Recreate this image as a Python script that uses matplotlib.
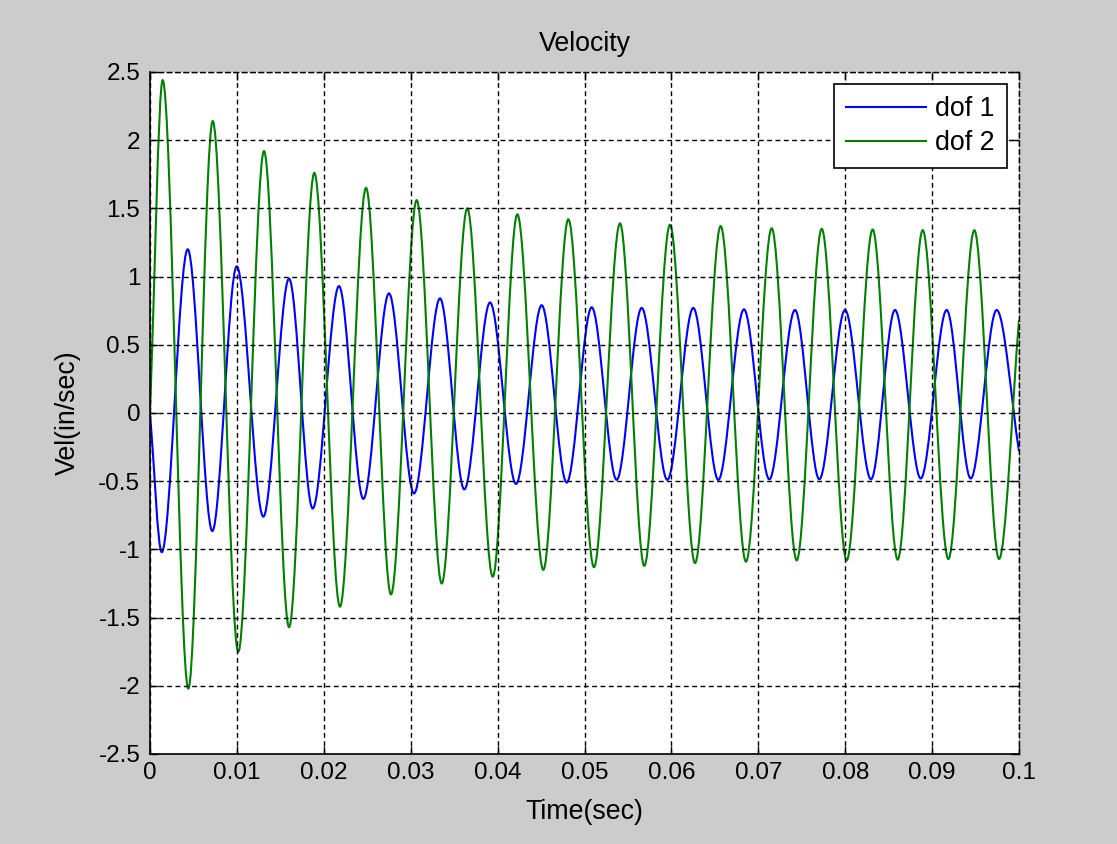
import matplotlib
matplotlib.use("Agg")
import matplotlib.pyplot as plt
from matplotlib.path import Path
from matplotlib.patches import PathPatch
from matplotlib.lines import Line2D

# ---- data (extrema of each oscillation) ----
dof1_t = [0.0, 0.00135, 0.00434, 0.00717, 0.00998, 0.01304, 0.0160, 0.01872, 0.02175,
          0.02455, 0.0275, 0.03038, 0.03337, 0.03617, 0.03913, 0.04212, 0.04507,
          0.04795, 0.05083, 0.0537, 0.05658, 0.05953, 0.06252, 0.0654, 0.06835,
          0.07127, 0.07422, 0.07702, 0.07998, 0.08297, 0.08573, 0.08869, 0.09168,
          0.09444, 0.09743, 0.1]
dof1_v = [0.0, -1.02, 1.20, -0.865, 1.075, -0.76, 0.985, -0.70, 0.93,
          -0.63, 0.877, -0.59, 0.84, -0.56, 0.81, -0.52, 0.79,
          -0.51, 0.775, -0.49, 0.77, -0.49, 0.77, -0.49, 0.76,
          -0.486, 0.755, -0.486, 0.755, -0.486, 0.755, -0.48, 0.755,
          -0.48, 0.755, -0.28]

dof2_t = [0.0, 0.00146, 0.00441, 0.00722, 0.01016, 0.01312, 0.016, 0.01891, 0.02186,
          0.02486, 0.02773, 0.03069, 0.03357, 0.03651, 0.03944, 0.04227, 0.04526,
          0.04814, 0.05109, 0.05408, 0.05688, 0.05984, 0.06272, 0.06567, 0.06858,
          0.07154, 0.07442, 0.0773, 0.08017, 0.08316, 0.08604, 0.08892, 0.09187,
          0.09486, 0.0977, 0.1]
dof2_v = [0.0, 2.44, -2.02, 2.14, -1.75, 1.92, -1.57, 1.76, -1.42,
          1.65, -1.33, 1.56, -1.25, 1.50, -1.20, 1.456, -1.15,
          1.42, -1.13, 1.39, -1.12, 1.38, -1.10, 1.37, -1.09,
          1.354, -1.08, 1.35, -1.08, 1.345, -1.075, 1.34, -1.07,
          1.34, -1.07, 0.68]

series_labels = ["dof 1", "dof 2"]
series_colors = ["#0000FF", "#008000"]
x_ticks = [0, 0.01, 0.02, 0.03, 0.04, 0.05, 0.06, 0.07, 0.08, 0.09, 0.1]
x_tick_labels = ["0", "0.01", "0.02", "0.03", "0.04", "0.05", "0.06", "0.07", "0.08", "0.09", "0.1"]
y_ticks = [-2.5, -2, -1.5, -1, -0.5, 0, 0.5, 1, 1.5, 2, 2.5]
y_tick_labels = ["-2.5", "-2", "-1.5", "-1", "-0.5", "0", "0.5", "1", "1.5", "2", "2.5"]

plt.rcParams["font.family"] = ["Liberation Sans", "DejaVu Sans"]
FS = 17.5          # tick labels
FS_LAB = 19.25     # title, axis labels, legend


def smooth_path(ts, vs):
    """Smooth curve through the extrema (horizontal tangent at each extremum)."""
    verts = [(ts[0], vs[0])]
    codes = [Path.MOVETO]
    n = len(ts)
    for i in range(n - 1):
        t0, v0, t1, v1 = ts[i], vs[i], ts[i + 1], vs[i + 1]
        d = (t1 - t0) / 3.0
        c1 = (t0 + d, v0 + (v1 - v0) / 3.0) if i == 0 else (t0 + d, v0)
        c2 = (t1 - d, v1 - (v1 - v0) / 3.0) if i == n - 2 else (t1 - d, v1)
        verts += [c1, c2, (t1, v1)]
        codes += [Path.CURVE4] * 3
    return Path(verts, codes)


fig = plt.figure(figsize=(11.17, 8.44), dpi=100, facecolor="#CCCCCC")
ax = fig.add_axes([150 / 1117, 1 - 754 / 844, 869 / 1117, 682 / 844])
ax.set_facecolor("white")

handles = []
for ts, vs, col, lab in [(dof1_t, dof1_v, series_colors[0], series_labels[0]),
                         (dof2_t, dof2_v, series_colors[1], series_labels[1])]:
    patch = PathPatch(smooth_path(ts, vs), facecolor="none", edgecolor=col,
                      lw=1.5, zorder=2, transform=ax.transData)
    ax.add_patch(patch)
    handles.append(Line2D([], [], color=col, lw=1.5, label=lab))

ax.set_xlim(0, 0.1)
ax.set_ylim(-2.5, 2.5)
ax.set_xticks(x_ticks)
ax.set_xticklabels(x_tick_labels)
ax.set_yticks(y_ticks)
ax.set_yticklabels(y_tick_labels)

dash = (0, (3.5, 2.5))
ax.set_axisbelow(False)
ax.grid(True, color="black", lw=1.0, linestyle=dash)
for s in ["left", "bottom"]:
    ax.spines[s].set_linewidth(1.2)
for s in ["top", "right"]:
    ax.spines[s].set_linewidth(1.0)
    ax.spines[s].set_linestyle(dash)

ax.tick_params(axis="both", which="both", direction="in", top=True, right=True,
               length=6, width=1.0, labelsize=FS, colors="black")
ax.tick_params(axis="x", pad=6)
ax.tick_params(axis="y", pad=7)

ax.set_title("Velocity", fontsize=FS_LAB, pad=15)
ax.set_xlabel("Time(sec)", fontsize=FS_LAB)
ax.set_ylabel("Vel(in/sec)", fontsize=FS_LAB)
ax.xaxis.set_label_coords(0.5, -0.066)
ax.yaxis.set_label_coords(-0.08, 0.5)

leg = ax.legend(handles=handles, loc="upper right", bbox_to_anchor=(0.986, 0.982),
                borderaxespad=0, fancybox=False, framealpha=1, edgecolor="black",
                fontsize=FS_LAB, handlelength=3.0, handletextpad=0.35,
                labelspacing=0.3, borderpad=0.45)
leg.get_frame().set_linewidth(1.2)

fig.savefig("out.png", dpi=100, facecolor=fig.get_facecolor())
